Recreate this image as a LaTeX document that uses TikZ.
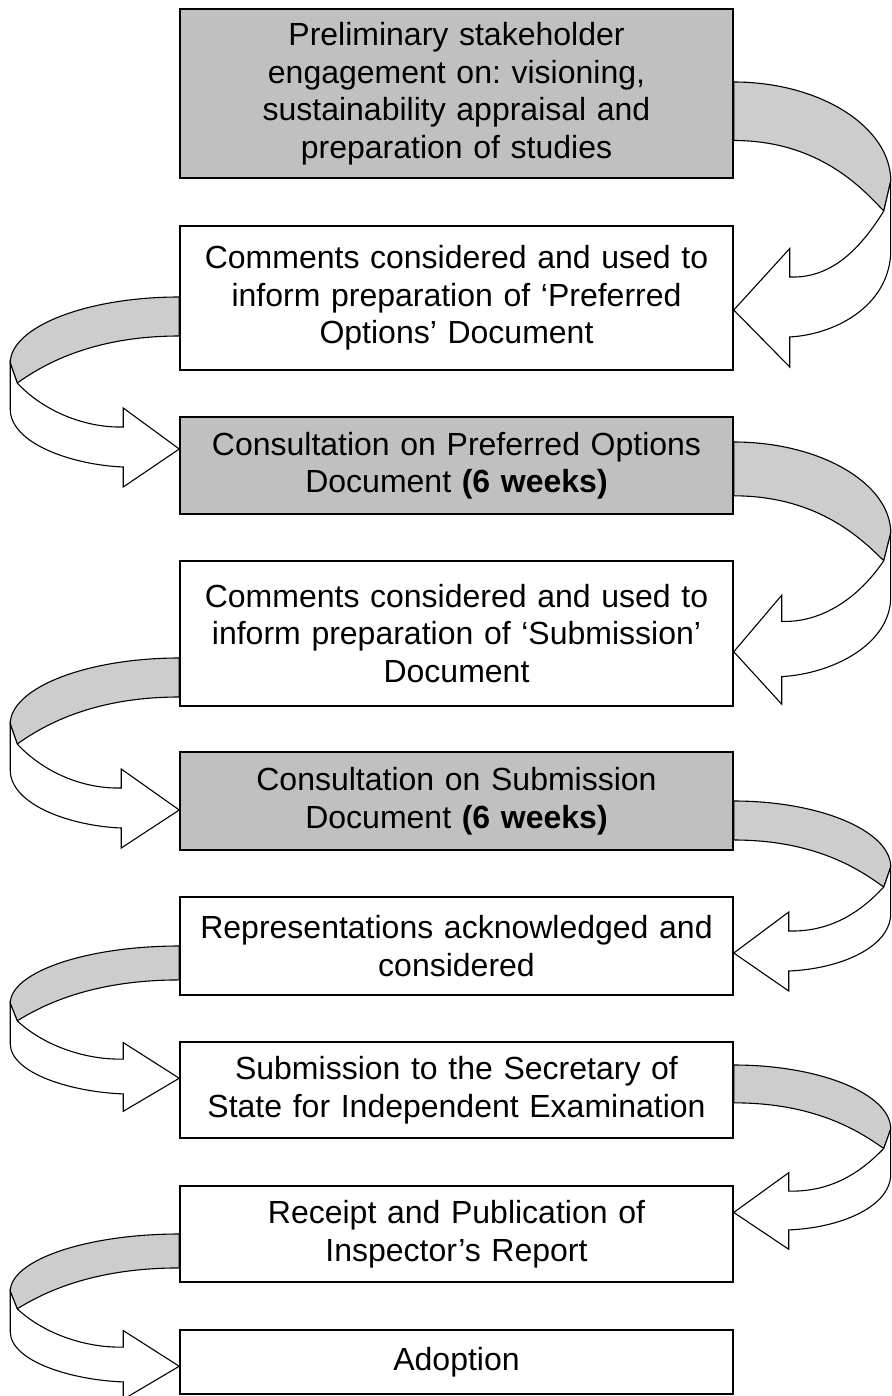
\documentclass[tikz,border=0pt]{standalone}
\usepackage{fontspec}
\setmainfont{Liberation Sans}
\frenchspacing
\definecolor{boxgray}{RGB}{192,192,192}
\definecolor{bandgray}{RGB}{205,205,205}
\tikzset{
  stepbox/.style={draw=black, line width=1.5pt, minimum width=553pt, text width=545pt,
    align=center, inner sep=0pt, font=\fontsize{32}{37.5}\selectfont},
  shadedbox/.style={stepbox, fill=boxgray},
  plainbox/.style={stepbox, fill=white},
  bandback/.style={draw=black, line width=1.1pt, line join=round, fill=bandgray},
  bandfront/.style={draw=black, line width=1.1pt, line join=miter, fill=white},
}
% #1 anchor, #2 direction (1 right, -1 left), #3 vertical scale, #4 extreme reach, #5 arrow base offset
\newcommand\twistarrow[5]{%
  \begin{scope}[shift={#1}, xscale=#2, yscale=#3]
    \def\E{#4}\def\W{#5}
    \filldraw[bandback] (0,0) .. controls ({0.55*\E},0) and (\E,30) .. (\E,66)
      -- ({\E-7},86) .. controls ({\E-27},72) and ({0.55*\E},39) .. (0,39) -- cycle;
    \filldraw[bandfront] (\E,66) -- (\E,112) .. controls (\E,147) and ({\W+50},168) .. (\W,170)
      -- (\W,190) -- (0,152) -- (\W,111) -- (\W,130)
      .. controls ({\W+40},131) and ({\E-32},113) .. ({\E-7},86) -- cycle;
  \end{scope}}
\begin{document}
\begin{tikzpicture}[x=1pt, y=-1pt]
  \useasboundingbox (0,0) rectangle (891,1396);
  \clip (0,0) rectangle (891,1396);
  \node[shadedbox, minimum height=169pt] (b1) at (456.5,93.5)
    {Preliminary stakeholder\\engagement on: visioning,\\sustainability appraisal and\\preparation of studies};
  \node[plainbox, minimum height=144pt] (b2) at (456.5,298)
    {Comments considered and used to\\inform preparation of ‘Preferred\\Options’ Document};
  \node[shadedbox, minimum height=97pt] (b3) at (456.5,465.5)
    {Consultation on Preferred Options\\Document \textbf{(6 weeks)}};
  \node[plainbox, minimum height=145pt] (b4) at (456.5,633.5)
    {Comments considered and used to\\inform preparation of ‘Submission’\\Document};
  \node[shadedbox, minimum height=98pt] (b5) at (456.5,801)
    {Consultation on Submission\\Document \textbf{(6 weeks)}};
  \node[plainbox, minimum height=98pt] (b6) at (456.5,946)
    {Representations acknowledged and\\considered};
  \node[plainbox, minimum height=96pt] (b7) at (456.5,1090)
    {Submission to the Secretary of\\State for Independent Examination};
  \node[plainbox, minimum height=96pt] (b8) at (456.5,1234)
    {Receipt and Publication of\\Inspector’s Report};
  \node[plainbox, minimum height=64pt] (b9) at (456.5,1362)
    {Adoption};
  \twistarrow{(b1.east |- 0,82)}{1}{1.5}{157}{56}
  \twistarrow{(b2.west |- 0,297)}{-1}{1}{169}{56}
  \twistarrow{(b3.east |- 0,442)}{1}{1.38}{157}{48}
  \twistarrow{(b4.west |- 0,658)}{-1}{1}{169}{58}
  \twistarrow{(b5.east |- 0,801)}{1}{1}{157}{55}
  \twistarrow{(b6.west |- 0,946)}{-1}{0.87}{169}{56}
  \twistarrow{(b7.east |- 0,1065)}{1}{0.97}{157}{55}
  \twistarrow{(b8.west |- 0,1234)}{-1}{0.87}{169}{56}
\end{tikzpicture}
\end{document}
